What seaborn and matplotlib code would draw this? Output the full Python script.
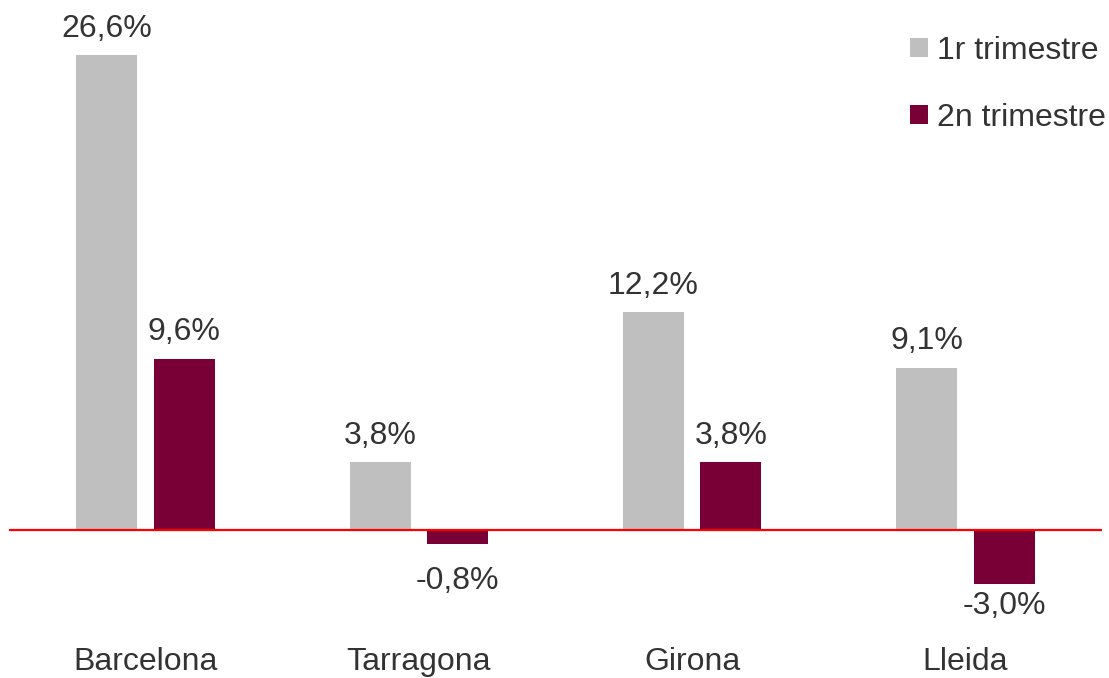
import matplotlib
matplotlib.use('Agg')
import matplotlib.pyplot as plt
import pandas as pd
import seaborn as sns

provincies = ['Barcelona', 'Tarragona', 'Girona', 'Lleida']
trimestres = ['1r trimestre', '2n trimestre']
valors_1r = [26.6, 3.8, 12.2, 9.1]
valors_2n = [9.6, -0.8, 3.8, -3.0]
colors = ['#bfbfbf', '#780036']

df = pd.DataFrame({
    'provincia': provincies * 2,
    'trimestre': [trimestres[0]] * 4 + [trimestres[1]] * 4,
    'valor': valors_1r + valors_2n,
})

sns.set_style('white')
plt.rcParams['font.family'] = ['Liberation Sans', 'DejaVu Sans']
text_color = '#333333'
fs = 23

fig = plt.figure(figsize=(11.09, 6.78), dpi=100)
# eixos en pixels: x 9..1102, y 0..640 des de dalt
ax = fig.add_axes([9 / 1109, 38 / 678, 1093 / 1109, 640 / 678])

sns.barplot(data=df, x='provincia', y='valor', hue='trimestre',
            palette=colors, width=0.567, gap=0.21, ax=ax,
            saturation=1, errorbar=None, linewidth=0)

ax.axhline(0, color='#ff0000', lw=1.6, zorder=5)
ax.set_xlim(-0.5, 3.5)
ax.set_ylim(-6.16, 29.68)
sns.despine(ax=ax, left=True, bottom=True)
ax.set_yticks([])
ax.set_xlabel('')
ax.set_ylabel('')
ax.tick_params(axis='x', length=0, pad=5, labelsize=fs, labelcolor=text_color)

# etiquetes de valor
for cont in ax.containers:
    for bar in cont:
        v = bar.get_y() if bar.get_y() < 0 else bar.get_height()
        xc = bar.get_x() + bar.get_width() / 2
        label = f'{v:.1f}%'.replace('.', ',')
        if v >= 0:
            ax.annotate(label, (xc, v), xytext=(0, 8), textcoords='offset points',
                        ha='center', va='bottom', fontsize=fs, color=text_color)
        else:
            ax.annotate(label, (xc, min(v, -1.6)), xytext=(0, -5), textcoords='offset points',
                        ha='center', va='top', fontsize=fs, color=text_color)

handles, labels = ax.get_legend_handles_labels()
ax.legend(handles, labels, loc='upper right', bbox_to_anchor=(1106 / 1109, 1 - 36 / 678),
          bbox_transform=fig.transFigure, frameon=False, fontsize=fs,
          handlelength=0.55, handleheight=0.55, handletextpad=0.3,
          labelspacing=1.15, borderpad=0, borderaxespad=0, labelcolor=text_color)

fig.savefig('out.png', dpi=100)
